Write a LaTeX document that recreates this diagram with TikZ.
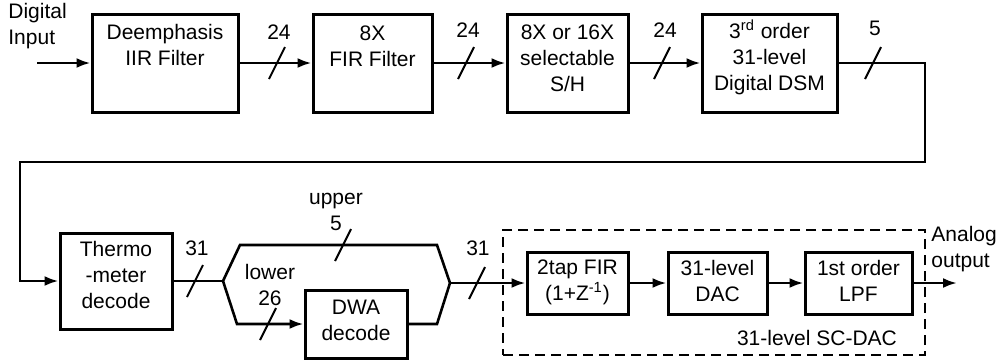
\documentclass[tikz,border=0pt]{standalone}
\usepackage{fontspec}
\setmainfont{Liberation Sans}
\usetikzlibrary{arrows.meta,calc}
\begin{document}
\begin{tikzpicture}[x=0.5pt,y=-0.5pt,
  box/.style args={#1x#2}{draw,line width=1.5pt,inner sep=0,minimum width=#1*0.5pt,minimum height=#2*0.5pt},
  txt/.style={font=\fontsize{10.5}{13}\selectfont,align=center,inner sep=0},
  wire/.style={line width=1.3pt},
  arr/.style={wire,-{Latex[length=7pt,width=5pt]}},
  dashbox/.style args={#1x#2}{draw,line width=1.1pt,dash pattern=on 5pt off 3pt,inner sep=0,minimum width=#1*0.5pt,minimum height=#2*0.5pt}]
\useasboundingbox (0,0) rectangle (997,361);
\newcommand\busslash[1]{\draw[line width=1pt] ($(#1)+(-8,16)$) -- ($(#1)+(8,-16)$);}
% top row
\node[txt,align=left,anchor=west] (din) at (8,26) {Digital\\Input};
\coordinate (inS) at (37,63);
\node[box=146x98] (b1) at (165,63) {};
\node[txt] (t1) at (165,45) {Deemphasis\\IIR Filter};
\node[box=119x98] (b2) at (372.5,63) {};
\node[txt] (t2) at (372.5,46) {8X\\FIR Filter};
\node[box=121x98] (b3) at (567.5,63) {};
\node[txt] (t3) at (567.5,58) {8X or 16X\\selectable\\S/H};
\node[box=135x98] (b4) at (769.5,63) {};
\node[txt] (t4) at (769.5,57.5) {3\textsuperscript{rd} order\\31-level\\Digital DSM};
\draw[arr] (inS) -- (b1.west);
\draw[arr] (b1.east) -- (b2.west);
\draw[arr] (b2.east) -- (b3.west);
\draw[arr] (b3.east) -- (b4.west);
\coordinate (s1) at (277,63); \busslash{s1}
\coordinate (s2) at (466,63); \busslash{s2}
\coordinate (s3) at (662,63); \busslash{s3}
\coordinate (s4) at (873,63); \busslash{s4}
\node[txt] (l1) at (279,32) {24};
\node[txt] (l2) at (468,30) {24};
\node[txt] (l3) at (665,30) {24};
\node[txt] (l4) at (875,28) {5};
% bottom row
\node[box=112x96] (th) at (116,281) {};
\node[txt] (tth) at (116,275) {Thermo\\-meter\\decode};
\node[box=102x68] (dwa) at (356,324) {};
\node[txt] (tdwa) at (356,320.5) {DWA\\decode};
\node[dashbox=422x125] (dsh) at (714,292.5) {};
\node[box=101x62] (fir) at (577.5,283) {};
\node[txt] (tfir) at (577.5,282) {2tap FIR\\(1+Z\textsuperscript{-1})};
\node[box=99x62] (dac) at (717.5,283) {};
\node[txt] (tdac) at (717.5,281) {31-level\\DAC};
\node[box=107x62] (lpf) at (858.5,283) {};
\node[txt] (tlpf) at (858.5,281) {1st order\\LPF};
\node[txt] (tsc) at (817,338) {31-level SC-DAC};
\node[txt,align=left,anchor=west] (aout) at (931,249) {Analog\\output};
\coordinate (aend) at (957,283);
% feedback
\coordinate (fa) at (925,162);
\coordinate (fb) at (20,162);
\draw[arr] (b4.east) -| (fa) -- (fb) |- (th.west);
% split/merge
\coordinate (sp) at (223,281);
\coordinate (u1) at (240,245);
\coordinate (u2) at (437,245);
\coordinate (mg) at (450,283);
\coordinate (lo) at (237,324);
\coordinate (d1) at (437,324);
\draw[wire] (th.east) -- (sp);
\draw[wire] (sp) -- (u1) -- (u2) -- (mg);
\draw[arr] (sp) -- (lo) -- (dwa.west);
\draw[wire] (dwa.east) -- (d1) -- (mg);
\draw[arr] (mg) -- (fir.west);
\draw[arr] (fir.east) -- (dac.west);
\draw[arr] (dac.east) -- (lpf.west);
\draw[arr] (lpf.east) -- (aend);
\coordinate (s5) at (195,281); \busslash{s5}
\coordinate (s6) at (343,245); \busslash{s6}
\coordinate (s7) at (268,324); \busslash{s7}
\coordinate (s8) at (477,283); \busslash{s8}
\node[txt] (l5) at (197,248) {31};
\node[txt] (l6) at (336,212) {upper\\5};
\node[txt] (l7) at (270,285) {lower\\26};
\node[txt] (l8) at (478,248) {31};
\end{tikzpicture}
\end{document}
